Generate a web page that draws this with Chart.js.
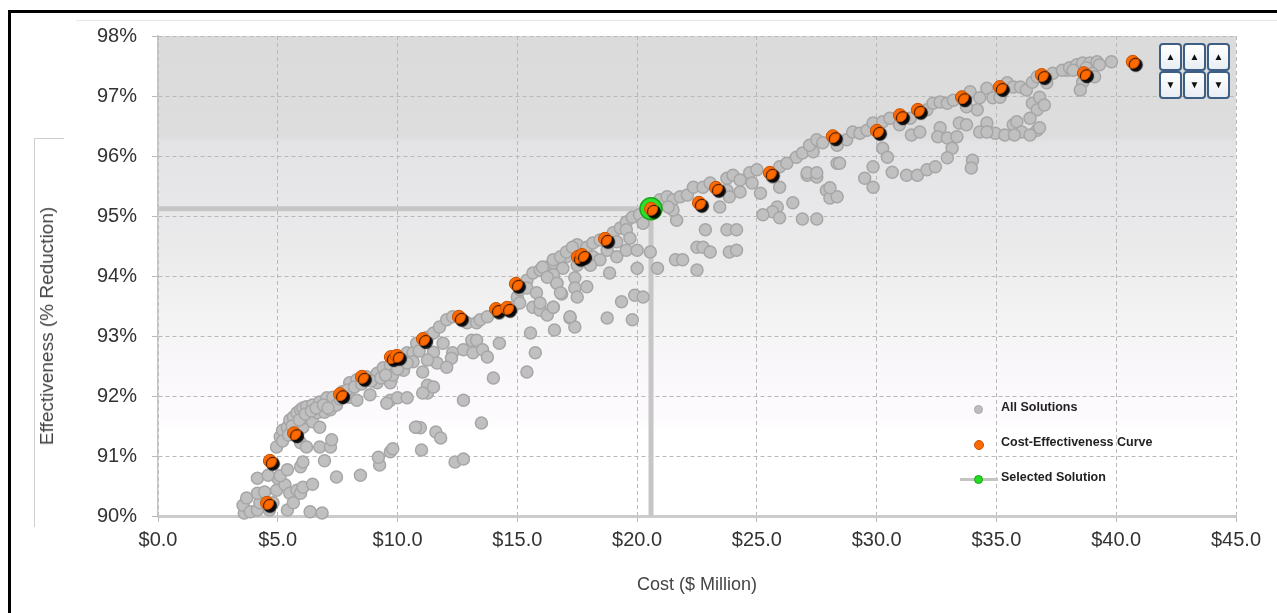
<!DOCTYPE html>
<html>
<head>
<meta charset="utf-8">
<script src="https://cdn.jsdelivr.net/npm/chart.js@4.4.1/dist/chart.umd.min.js"></script>
<style>
  html, body { margin: 0; padding: 0; background: #fff; }
  #wrap { position: relative; width: 1277px; height: 613px; overflow: hidden; font-family: "Liberation Sans", Arial, sans-serif; }
  #frame { position: absolute; left: 8px; top: 10px; width: 1300px; height: 700px; border-left: 3px solid #000; border-top: 3px solid #000; }
  #topline { position: absolute; left: 76px; top: 20px; width: 1210px; height: 1px; background: #e6e6e6; }
  #bracket { position: absolute; left: 34px; top: 138px; width: 29px; height: 388px; border-left: 1px solid #cfcfcf; border-top: 1px solid #cfcfcf; }
  #ytitle { position: absolute; left: 47px; top: 326px; transform: translate(-50%, -50%) rotate(-90deg); white-space: nowrap; font-size: 19px; color: #444; }
  canvas { position: absolute; left: 0; top: 0; }
  .legend { position: absolute; left: 958px; top: 400px; font-size: 12.5px; color: #222; font-weight: bold; }
  .legend .row { position: relative; height: 35px; }
  .legend .dot { position: absolute; left: 16px; top: 5px; width: 8px; height: 8px; border-radius: 50%; }
  .legend .bar { position: absolute; left: 2px; top: 8px; width: 38px; height: 3px; background: #c4c4c4; }
  .legend .txt { position: absolute; left: 43px; top: 0px; white-space: nowrap; }
  .btns { position: absolute; left: 1159px; top: 43px; }
  .btn { position: absolute; width: 19px; height: 24px; border: 2px solid #3d5f86; border-radius: 4px; background: linear-gradient(#ffffff, #e9eef4); font-size: 10px; line-height: 24px; text-align: center; color: #111; }
</style>
</head>
<body>
<div id="wrap">
  <div id="frame"></div>
  <div id="topline"></div>
  <div id="bracket"></div>
  <canvas id="chart" width="1277" height="613"></canvas>
  <div id="ytitle">Effectiveness (% Reduction)</div>
  <div class="legend">
    <div class="row"><span class="dot" style="background:#bdbdbd;border:1px solid #a8a8a8;width:7px;height:7px"></span><span class="txt">All Solutions</span></div>
    <div class="row"><span class="dot" style="background:#ff6a00;border:1px solid #c85000;"></span><span class="txt">Cost-Effectiveness Curve</span></div>
    <div class="row"><span class="bar"></span><span class="dot" style="background:#22dd22;border:1px solid #18a018;width:7px;height:7px"></span><span class="txt">Selected Solution</span></div>
  </div>
  <div class="btns">
    <div class="btn" style="left:0;top:0">&#9650;</div>
    <div class="btn" style="left:24px;top:0">&#9650;</div>
    <div class="btn" style="left:48px;top:0">&#9650;</div>
    <div class="btn" style="left:0;top:28px">&#9660;</div>
    <div class="btn" style="left:24px;top:28px">&#9660;</div>
    <div class="btn" style="left:48px;top:28px">&#9660;</div>
  </div>
</div>
<script>
// cost in $ million, effectiveness in %
const curveCost = [4.55, 4.67, 5.68, 7.6, 8.51, 9.72, 9.97, 11.06, 12.56, 14.11, 14.57, 14.94, 17.53, 17.7, 18.66, 20.58, 22.58, 23.29, 25.54, 28.17, 30.01, 30.97, 31.72, 33.56, 35.14, 36.89, 38.65, 40.69];
const curveEff = [90.22, 90.92, 91.38, 92.03, 92.32, 92.65, 92.67, 92.95, 93.32, 93.45, 93.47, 93.87, 94.32, 94.35, 94.62, 95.12, 95.22, 95.47, 95.72, 96.33, 96.42, 96.68, 96.77, 96.98, 97.15, 97.35, 97.38, 97.57];

const selCost = [20.58];
const selEff = [95.12];

const allSolutions = [
  [3.6,90.05],[3.55,90.18],[3.7,90.3],[3.85,90.07],[4.15,90.1],[4.25,90.22],[4.15,90.38],[4.45,90.4],[4.65,90.1],[4.8,90.22],
  [4.95,90.43],[5.0,90.63],[5.3,90.52],[5.4,90.1],[5.5,90.38],[5.65,90.22],[5.8,90.43],[5.95,90.38],[6.05,90.48],[6.45,90.53],
  [6.35,90.07],[6.85,90.05],[4.15,90.63],[4.6,90.68],[5.1,90.67],[5.4,90.77],[5.95,90.82],[6.05,90.9],[6.95,90.92],[7.45,90.65],
  [8.45,90.68],[9.25,90.85],[9.2,90.98],[9.7,91.07],[9.8,91.12],[11.0,91.1],[10.8,91.48],[10.95,91.47],[11.05,92.4],[11.25,92.05],
  [4.95,91.15],[5.1,91.32],[5.2,91.43],[5.4,91.48],[5.5,91.6],[5.65,91.65],[5.8,91.72],[5.95,91.77],[6.05,91.8],[6.2,91.82],
  [6.45,91.85],[6.75,91.9],[7.05,91.97],[7.3,91.98],[7.7,92.07],[8.0,92.22],[8.3,92.27],[8.7,92.32],[9.15,92.38],[9.4,92.47],
  [9.7,92.52],[10.1,92.57],[10.4,92.72],[10.65,92.72],[10.8,92.88],
  [5.8,91.43],[6.05,91.48],[6.25,91.63],[6.45,91.57],[6.75,91.48],[6.65,91.72],[6.95,91.73],[7.2,91.77],[7.45,91.85],[6.75,91.15],
  [7.2,91.15],[7.25,91.27],[8.0,91.98],[8.3,91.93],[8.85,92.02],[9.15,92.22],[9.7,92.22],[9.8,92.35],[10.25,92.43],[10.65,92.57],
  [9.7,91.93],[10.0,91.97],[10.4,91.97],[10.75,91.48],[9.55,91.88],[5.95,91.22],[6.2,91.15],
  [5.2,91.25],[5.45,91.35],[5.6,91.5],[5.9,91.6],[6.15,91.7],[6.4,91.75],[6.6,91.8],[6.9,91.85],[7.1,91.8],[7.6,91.95],
  [7.9,92.1],[8.2,92.15],[8.5,92.2],[8.9,92.25],[9.3,92.3],[9.5,92.35],[10.0,92.45],[10.4,92.55],[10.9,92.75],
  [12.4,90.9],[12.75,90.95],[13.5,91.55],[11.6,91.4],[11.8,91.3],
  [11.25,92.98],[11.5,93.05],[11.75,93.15],[12.05,93.27],[12.3,93.32],[12.9,93.22],[13.3,93.22],[13.45,93.27],[13.75,93.32],[14.25,93.38],
  [14.8,93.48],[15.0,93.65],[15.1,93.77],[15.4,93.93],[15.65,94.05],[15.95,94.1],[16.25,94.15],[16.5,94.22],[16.8,94.27],[17.05,94.32],
  [17.3,94.43],[17.5,94.52],[15.4,93.8],[15.8,93.72],[15.1,93.55],
  [11.9,92.88],[12.3,92.72],[12.25,92.63],[11.5,92.73],[11.65,92.55],[12.05,92.48],[11.25,92.6],[12.75,92.77],[13.1,92.93],[13.3,92.93],
  [13.15,92.72],[13.55,92.77],[13.75,92.65],[14.25,92.88],[14.0,92.3],[15.4,92.4],[15.75,92.72],[15.55,93.05],[16.55,93.1],[16.65,93.88],
  [16.85,93.7],[15.65,93.48],[15.95,93.43],[16.25,93.35],[16.5,93.48],[17.4,93.97],[17.4,93.8],[17.2,93.3],[17.4,93.15],[11.25,92.18],
  [11.5,92.15],[11.05,92.05],[12.75,91.93],
  [16.05,94.15],[16.5,94.27],[16.8,94.32],[17.05,94.4],[17.3,94.48],[17.9,94.48],[18.15,94.55],[18.45,94.6],[19.0,94.72],[19.3,94.8],
  [19.55,94.9],[19.8,94.98],[20.1,95.02],[20.25,94.88],[19.55,94.77],[19.7,94.63],[19.15,94.57],[18.75,94.43],[18.15,94.32],[18.45,94.27],
  [18.05,94.18],[17.5,94.18],[16.9,94.13],[16.5,94.02],[16.25,93.98],[16.65,93.88],[17.9,93.82],[17.5,93.65],[16.8,93.72],[18.85,94.05],
  [19.15,94.32],[19.55,94.43],[20.0,94.43],[20.55,94.4],[20.85,94.13],[20.0,94.13],[19.35,93.57],[19.9,93.68],[20.25,93.65],[18.75,93.3],
  [15.95,93.55],[16.5,93.48],[17.2,93.32],[19.8,93.27],
  [20.95,95.27],[21.25,95.32],[21.5,95.27],[21.8,95.32],[22.1,95.35],[22.35,95.48],[22.75,95.48],[23.05,95.55],[23.75,95.63],[24.0,95.68],
  [24.3,95.6],[24.7,95.72],[25.0,95.77],[25.95,95.82],[26.25,95.88],[26.65,95.98],[26.9,96.05],[27.35,96.07],[23.75,95.43],[24.3,95.4],
  [24.8,95.55],[23.85,95.32],[23.45,95.15],[21.65,94.93],[21.5,95.1],[21.3,95.15],[25.15,95.38],[25.65,95.65],[25.95,95.48],[26.5,95.22],
  [25.85,95.15],[25.65,95.07],[25.25,95.02],[25.95,94.97],[26.9,94.95],[27.5,94.95],[27.1,95.68],[27.5,95.65],[27.9,95.43],[28.05,95.3],
  [28.35,95.32],[28.35,95.88],
  [22.85,94.77],[23.75,94.77],[24.15,94.77],[22.5,94.48],[22.75,94.48],[23.05,94.4],[23.85,94.4],[24.15,94.43],[21.6,94.27],[21.9,94.27],
  [22.5,94.1],
  [27.2,96.18],[27.5,96.27],[27.75,96.22],[28.35,96.18],[28.75,96.27],[29.0,96.4],[29.3,96.38],[29.6,96.43],[29.85,96.55],[30.25,96.57],
  [30.55,96.63],[30.95,96.52],[31.4,96.63],[32.1,96.77],[32.35,96.88],[32.65,96.9],[32.95,96.88],[33.2,96.93],[33.9,97.07],[34.3,96.97],
  [34.6,97.13],[34.85,96.97],[35.45,97.22],[35.7,97.15],[36.0,97.15],[36.25,97.1],[36.5,97.23],[36.7,97.32],[37.1,97.22],[37.35,97.38],
  [37.95,97.43],[38.2,97.47],
  [28.45,95.88],[27.1,95.72],[27.5,95.72],[28.05,95.47],[29.5,95.63],[29.85,95.48],[29.85,95.82],[30.25,96.13],[30.45,95.98],[30.65,95.73],
  [31.25,95.68],[31.45,96.35],[31.7,95.68],[31.8,96.4],[32.1,95.77],[32.45,95.82],[32.65,96.47],[32.55,96.32],[32.95,96.3],[33.15,96.13],
  [32.95,95.97],[33.35,96.32],[33.45,96.55],[33.75,96.52],[34.0,95.93],[33.95,95.8],[34.2,96.77],[34.6,96.55],[34.95,96.38],[35.35,96.35],
  [35.7,96.52],[35.85,96.57],[36.5,96.88],[36.7,96.77],[36.8,96.98],[34.3,96.4],[34.6,96.4],[33.75,96.82],[35.15,96.98],[36.05,96.4],
  [36.7,96.43],
  [37.75,97.43],[38.05,97.47],[38.35,97.52],[38.6,97.55],[38.9,97.55],[39.2,97.57],[39.3,97.52],[39.8,97.57],[38.75,97.47],[39.0,97.38],
  [39.1,97.32],[38.6,97.23],[38.2,97.43],[38.5,97.1],[37.0,96.85],[36.4,96.63],[36.8,96.47],[36.4,96.35],[35.75,96.35]
];

const xTickLabels = ['$0.0', '$5.0', '$10.0', '$15.0', '$20.0', '$25.0', '$30.0', '$35.0', '$40.0', '$45.0'];
const yTickLabels = ['90%', '91%', '92%', '93%', '94%', '95%', '96%', '97%', '98%'];

const X_MIN = 0, X_MAX = 45, Y_MIN = 90, Y_MAX = 98;

const bgPlugin = {
  id: 'bg',
  beforeDraw(chart) {
    const { ctx, chartArea: a } = chart;
    const g = ctx.createLinearGradient(0, a.top, 0, a.bottom);
    g.addColorStop(0, '#dbdbdb');
    g.addColorStop(0.21, '#dddddd');
    g.addColorStop(0.22, '#e3e2e5');
    g.addColorStop(0.45, '#ebebec');
    g.addColorStop(0.55, '#f1f1f1');
    g.addColorStop(0.66, '#f8f6f8');
    g.addColorStop(0.8, '#fdfbfd');
    g.addColorStop(0.82, '#ffffff');
    g.addColorStop(1, '#ffffff');
    ctx.save();
    ctx.fillStyle = g;
    ctx.fillRect(a.left, a.top, a.right - a.left, a.bottom - a.top);
    ctx.restore();
  }
};

const shadowPlugin = {
  id: 'shadow',
  beforeDatasetDraw(chart, args) {
    if (chart.data.datasets[args.index].label !== 'Cost-Effectiveness Curve') return;
    const ctx = chart.ctx;
    ctx.save();
    ctx.shadowColor = 'rgba(0,0,0,0.95)';
    ctx.shadowOffsetX = 3;
    ctx.shadowOffsetY = 3;
    ctx.shadowBlur = 1;
  },
  afterDatasetDraw(chart, args) {
    if (chart.data.datasets[args.index].label !== 'Cost-Effectiveness Curve') return;
    chart.ctx.restore();
  }
};

const tickFont = { family: '"Liberation Sans", Arial, sans-serif', size: 20 };
const gridStyle = { color: '#b9b9b9', lineWidth: 1, tickLength: 6 };

new Chart(document.getElementById('chart'), {
  type: 'scatter',
  data: {
    datasets: [
      {
        label: 'Cost-Effectiveness Curve',
        data: curveCost.map((c, i) => ({ x: c, y: curveEff[i] })),
        backgroundColor: '#ff6a00',
        borderColor: '#c75200',
        borderWidth: 1,
        pointRadius: 6.5,
        clip: false
      },
      {
        label: 'Selected Solution',
        data: selCost.map((c, i) => ({ x: c, y: selEff[i] })),
        backgroundColor: '#2ee02e',
        borderColor: '#1aa81a',
        borderWidth: 1.5,
        pointRadius: 11
      },
      {
        label: 'All Solutions',
        data: allSolutions.map(p => ({ x: p[0], y: p[1] })),
        backgroundColor: '#c0c0c0',
        borderColor: '#a6a6a6',
        borderWidth: 1.5,
        pointRadius: 6,
        clip: false
      },
      {
        label: 'h',
        data: [{ x: X_MIN, y: selEff[0] }, { x: selCost[0], y: selEff[0] }],
        showLine: true,
        borderColor: '#c6c6c6',
        borderWidth: 5,
        pointRadius: 0
      },
      {
        label: 'v',
        data: [{ x: selCost[0], y: selEff[0] }, { x: selCost[0], y: Y_MIN }],
        showLine: true,
        borderColor: '#c6c6c6',
        borderWidth: 5,
        pointRadius: 0
      }
    ]
  },
  options: {
    responsive: false,
    animation: false,
    events: [],
    layout: { padding: { top: 36, right: 41, left: 0, bottom: 0 } },
    plugins: { legend: { display: false }, tooltip: { enabled: false } },
    scales: {
      x: {
        type: 'linear',
        min: X_MIN,
        max: X_MAX,
        afterFit: (s) => { s.height = 97; },
        ticks: {
          stepSize: 5,
          padding: 6,
          color: '#333',
          font: tickFont,
          maxRotation: 0,
          callback: (v) => xTickLabels[Math.round(v / 5)]
        },
        grid: gridStyle,
        border: { display: true, color: '#cbcbcb', width: 3, dash: [4, 3] },
        title: {
          display: true,
          text: 'Cost ($ Million)',
          color: '#444',
          font: { family: '"Liberation Sans", Arial, sans-serif', size: 18 },
          padding: { top: 0, bottom: 17 }
        }
      },
      y: {
        type: 'linear',
        min: Y_MIN,
        max: Y_MAX,
        afterFit: (s) => { s.width = 158; },
        ticks: {
          stepSize: 1,
          padding: 15,
          color: '#333',
          font: tickFont,
          callback: (v) => yTickLabels[Math.round(v - Y_MIN)]
        },
        grid: gridStyle,
        border: { display: true, color: '#c4c4c4', width: 1.5, dash: [4, 3] }
      }
    }
  },
  plugins: [bgPlugin, shadowPlugin]
});
</script>
</body>
</html>
